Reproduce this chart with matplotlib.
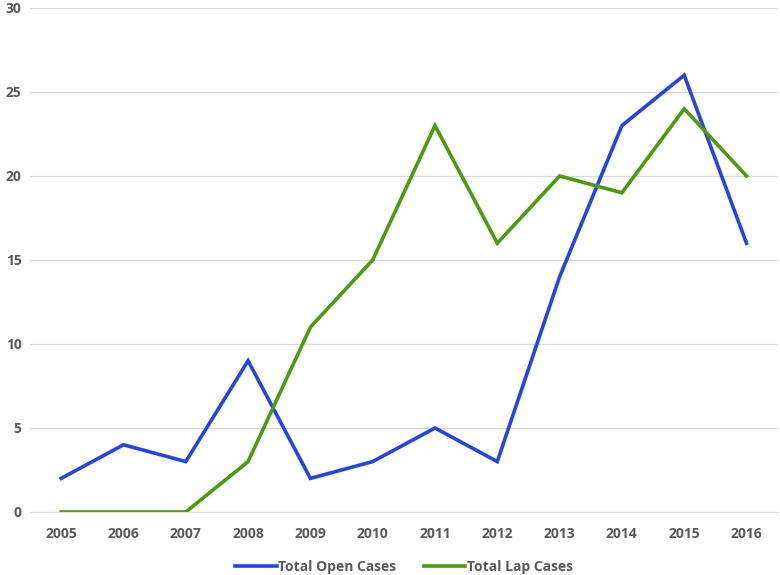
import matplotlib
matplotlib.use("Agg")
import matplotlib.pyplot as plt

years = ['2005', '2006', '2007', '2008', '2009', '2010', '2011', '2012', '2013', '2014', '2015', '2016']
open_cases = [2, 4, 3, 9, 2, 3, 5, 3, 14, 23, 26, 16]
lap_cases = [0, 0, 0, 3, 11, 15, 23, 16, 20, 19, 24, 20]

plt.rcParams['font.family'] = ['Open Sans', 'DejaVu Sans']
txt = '#595959'

fig = plt.figure(figsize=(7.8, 5.75), dpi=100)
ax = fig.add_axes([0.0385, 0.1096, 0.9585, 0.8765])

x = list(range(len(years)))
ax.plot(x, open_cases, color='#2344e6', lw=2.6, label='Total Open Cases', solid_joinstyle='miter')
ax.plot(x, lap_cases, color='#4a9c0c', lw=2.6, label='Total Lap Cases', solid_joinstyle='miter')

ax.set_xlim(-0.5, len(years) - 0.5)
ax.set_ylim(0, 30)
ax.set_yticks(range(0, 31, 5))
ax.set_xticks(x)
ax.set_xticklabels(years)
ax.grid(axis='y', color='#d9d9d9', lw=0.9)
ax.set_axisbelow(True)
for s in ax.spines.values():
    s.set_visible(False)
ax.spines['bottom'].set_visible(True)
ax.spines['bottom'].set_color('#d9d9d9')
ax.tick_params(length=0, labelsize=10, labelcolor=txt, pad=11)
ax.tick_params(axis='y', pad=6)
for lab in ax.get_xticklabels() + ax.get_yticklabels():
    lab.set_fontweight('bold')

leg = ax.legend(loc='center', bbox_to_anchor=(0.5, -0.109), ncol=2, frameon=False,
                prop={'weight': 'bold', 'size': 10}, handlelength=3.0, handletextpad=0.1,
                columnspacing=2.0)
for t in leg.get_texts():
    t.set_color(txt)

fig.savefig('out.png', dpi=100)
